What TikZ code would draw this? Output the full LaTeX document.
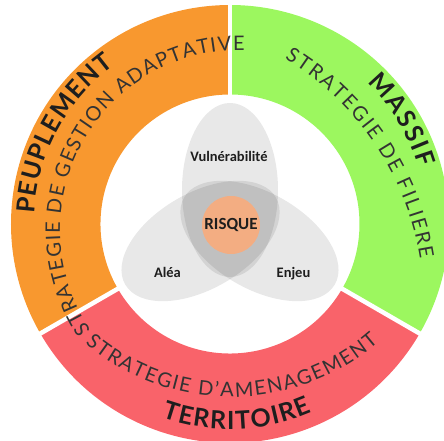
\documentclass[tikz,border=0pt]{standalone}
\usepackage{fontspec}
\usetikzlibrary{decorations.text}
\newfontfamily\ringfont{Lato}
\newfontfamily\venfont{Carlito}
\definecolor{peuple}{HTML}{F8982F}
\definecolor{massif}{HTML}{9CF75F}
\definecolor{terri}{HTML}{F9636A}
\definecolor{risque}{HTML}{F3AD82}
\definecolor{ink}{HTML}{333333}
\definecolor{inkb}{HTML}{1E1E1E}
\newcommand{\thinring}{\ringfont\fontsize{20}{20}\selectfont}
\newcommand{\boldring}{\ringfont\bfseries\fontsize{25}{25}\selectfont}
\tikzset{
  gap/.style={draw=white,line width=4.5pt},
  petal/.style={fill=black,fill opacity=0.09},
  core/.style={circle,fill=risque,minimum size=58pt,inner sep=0pt,
    font=\venfont\bfseries\fontsize{17}{17}\selectfont,text=inkb},
  vlabel/.style={font=\venfont\bfseries\fontsize{14.5}{14.5}\selectfont,text=inkb,anchor=base},
  ringtext/.style={decorate,decoration={text along path,text align={fit to path},text color=ink}},
  ringtitle/.style={ringtext,decoration={text color=inkb}},
}

\begin{document}
\begin{tikzpicture}[x=1pt,y=1pt]
  \useasboundingbox (-230,-217) rectangle (214,224);
  % ---- the three bands of the ring ----
  \fill[peuple] (90:219pt) arc[start angle=90,end angle=210,radius=219pt]
    -- (210:129.5pt) arc[start angle=210,end angle=90,radius=129.5pt] -- cycle;
  \fill[terri] (210:219pt) arc[start angle=210,end angle=330,radius=219pt]
    -- (330:129.5pt) arc[start angle=330,end angle=210,radius=129.5pt] -- cycle;
  \fill[massif] (330:219pt) arc[start angle=330,end angle=450,radius=219pt]
    -- (90:129.5pt) arc[start angle=450,end angle=330,radius=129.5pt] -- cycle;
  \foreach \a in {90,210,330}
    \draw[gap] (\a:125pt) -- (\a:224pt);

  % ---- risk: three petals around the core ----
  \foreach \a in {0,120,240}
    \fill[petal,rotate=\a] (0,34) ellipse[x radius=48pt,y radius=87pt];
  \node[core] (risque) at (1,-1) {RISQUE};
  \node[vlabel] (vul) at (-1,62) {Vulnérabilité};
  \node[vlabel] (alea) at (-62.5,-54) {Aléa};
  \node[vlabel] (enjeu) at (63.5,-54) {Enjeu};

  % ---- band titles ----
  \path[ringtitle,decoration={text={|\boldring|PEUPLEMENT}}]
    (177:196pt) arc[start angle=177,end angle=126,radius=196pt];
  \path[ringtitle,decoration={text={|\boldring|MASSIF}}]
    (46:197pt) arc[start angle=46,end angle=16.5,radius=197pt];
  \path[ringtitle,decoration={text={|\boldring|TERRITOIRE}}]
    (250.5:205pt) arc[start angle=250.5,end angle=293.5,radius=205pt];

  % ---- strategies, each on its own arch ----
  \path[ringtext,shift={(10,-6)},
    decoration={text={|\thinring|STRATEGIE DE GESTION ADAPTATIVE}}]
    (214:180pt) arc[start angle=214,end angle=88.5,radius=180pt];
  \path[ringtext,shift={(-92.3,-80.3)},
    decoration={text={|\thinring|STRATEGIE DE FILIERE}}]
    (59.1:286pt) arc[start angle=59.1,end angle=9.1,radius=286pt];
  \path[ringtext,shift={(1,52)},
    decoration={text={|\thinring|STRATEGIE D’AMENAGEMENT}}]
    (229.6:225pt) arc[start angle=229.6,end angle=311,radius=225pt];
\end{tikzpicture}
\end{document}
